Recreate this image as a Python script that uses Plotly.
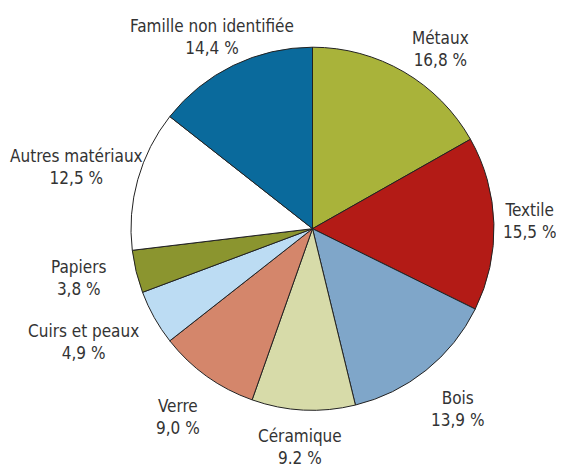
import math
import plotly.graph_objects as go

# ---- data ----
categories = ["Métaux", "Textile", "Bois", "Céramique", "Verre",
              "Cuirs et peaux", "Papiers", "Autres matériaux", "Famille non identifiée"]
values = [16.8, 15.5, 13.9, 9.2, 9.0, 4.9, 3.8, 12.5, 14.4]
value_labels = ["16,8 %", "15,5 %", "13,9 %", "9.2 %", "9,0 %",
                "4,9 %", "3,8 %", "12,5 %", "14,4 %"]
colors = ["#a9b33a", "#b31b16", "#7fa6c9", "#d7dba9", "#d4866b",
          "#bcdcf3", "#8b952f", "#ffffff", "#0a6a9c"]

# ---- layout geometry (pixels) ----
W, H = 564, 472
OFF = 8  # page body margin compensation
cx, cy, R = 312.5 - OFF, 228.7 - OFF, 181.5
label_factor = 1.25
# small pixel nudges for label boxes (dx, dy), screen coords
nudges = [(14, 16), (-10, -1), (3, 3), (-1, -8), (-2, 4),
          (-31, 2), (-14, -4), (-18, 0), (-1, 12)]

fig = go.Figure(go.Pie(
    labels=categories,
    values=values,
    sort=False,
    direction="clockwise",
    rotation=0,
    textinfo="none",
    hoverinfo="skip",
    showlegend=False,
    marker=dict(colors=colors, line=dict(color="#222222", width=1)),
    domain=dict(x=[(cx - R) / W, (cx + R) / W],
                y=[1 - (cy + R) / H, 1 - (cy - R) / H]),
))

total = sum(values)
cum = 0.0
annotations = []
for cat, v, vl, (ndx, ndy) in zip(categories, values, value_labels, nudges):
    mid = (cum + v / 2) / total * 2 * math.pi
    cum += v
    px = cx + label_factor * R * math.sin(mid) + ndx
    py = cy - label_factor * R * math.cos(mid) + ndy
    annotations.append(dict(
        x=px / W, y=1 - py / H, xref="paper", yref="paper",
        text=f"{cat}<br>{vl}", showarrow=False,
        xanchor="center", yanchor="middle", align="center",
        font=dict(family="DejaVu Sans Condensed, Liberation Sans Narrow, sans-serif",
                  size=17, color="#333333"),
    ))

fig.update_layout(
    width=W, height=H,
    margin=dict(l=0, r=0, t=0, b=0),
    paper_bgcolor="white",
    plot_bgcolor="white",
    annotations=annotations,
)

fig.write_html("out.html")
